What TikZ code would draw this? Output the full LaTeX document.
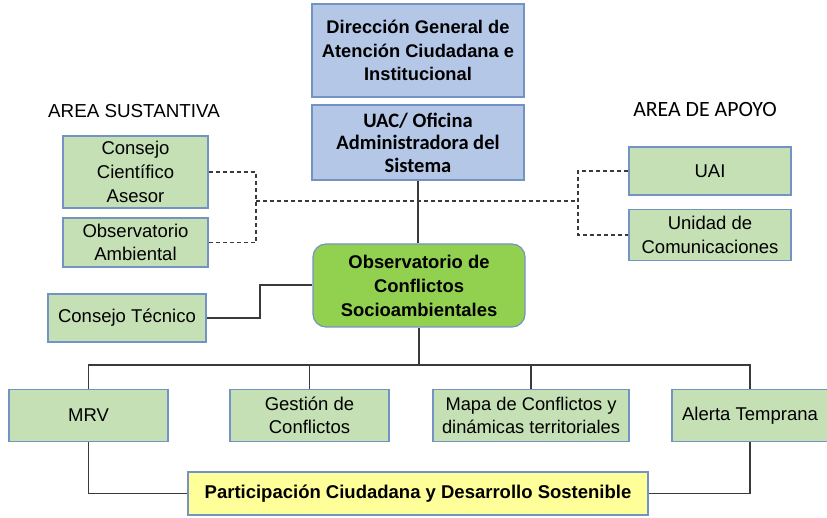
\documentclass[tikz,border=0pt]{standalone}
\usepackage{fontspec}
\setmainfont{Liberation Sans}
\newfontfamily\calib{Carlito}
\definecolor{bluefill}{HTML}{B4C7E7}
\definecolor{blueedge}{HTML}{7393C4}
\definecolor{greenfill}{HTML}{C5E0B4}
\definecolor{obsgreen}{HTML}{92D050}
\definecolor{yellowfill}{HTML}{FFFF99}
\definecolor{linegray}{HTML}{3A3A3A}
\tikzset{
  box/.style={draw=blueedge, line width=1.2pt, inner sep=0pt, align=center, font=\fontsize{18.5}{23.5}\selectfont},
  bluebox/.style={box, fill=bluefill},
  greenbox/.style={box, fill=greenfill},
  conn/.style={draw=linegray, line width=1.3pt},
  dconn/.style={draw=linegray, line width=1.1pt, dash pattern=on 4pt off 3pt},
}
\begin{document}
\begin{tikzpicture}[x=1pt,y=-1pt]
\useasboundingbox (0,0) rectangle (827,518);
% top boxes
\node[bluebox, minimum width=212pt, minimum height=93pt, font=\bfseries\fontsize{18.3}{23.5}\selectfont] (dg) at (418,50.5) {Dirección General de\\Atención Ciudadana e\\Institucional};
\node[bluebox, minimum width=212pt, minimum height=75pt, font=\calib\bfseries\fontsize{20.5}{22.5}\selectfont] (uac) at (418,142.5) {UAC/ Oficina\\Administradora del\\Sistema};
\node[box, fill=obsgreen, rounded corners=13pt, minimum width=212pt, minimum height=83pt, font=\bfseries\fontsize{18.4}{24}\selectfont] (obs) at (419,285.5) {Observatorio de\\Conflictos\\Socioambientales};
% area labels
\node[font=\fontsize{18.8}{22}\selectfont] (as) at (134,111) {AREA SUSTANTIVA};
\node[font=\calib\fontsize{21.8}{24}\selectfont] (aa) at (705,110) {AREA DE APOYO};
% left side
\node[greenbox, minimum width=145pt, minimum height=72pt, font=\fontsize{18.5}{24}\selectfont] (cca) at (135.5,172) {Consejo\\Científico\\Asesor};
\node[greenbox, minimum width=145pt, minimum height=49pt] (oa) at (135.5,242.5) {Observatorio\\Ambiental};
\node[greenbox, minimum width=158pt, minimum height=48pt] (ct) at (127,318) {Consejo Técnico};
% right side
\node[greenbox, minimum width=162pt, minimum height=48pt] (uai) at (710,171) {UAI};
\node[greenbox, minimum width=162pt, minimum height=51pt] (uc) at (710,235) {Unidad de\\Comunicaciones};
% bottom row
\node[greenbox, minimum width=159pt, minimum height=52pt] (mrv) at (88.5,415.5) {MRV};
\node[greenbox, minimum width=159pt, minimum height=52pt] (gest) at (309.5,415.5) {Gestión de\\Conflictos};
\node[greenbox, minimum width=196pt, minimum height=52pt, font=\fontsize{18.3}{23.5}\selectfont] (mapa) at (531,415.5) {Mapa de Conflictos y\\dinámicas territoriales};
\node[greenbox, minimum width=156pt, minimum height=52pt] (alerta) at (750,415.5) {Alerta Temprana};
\node[box, fill=yellowfill, minimum width=460pt, minimum height=43pt, font=\bfseries\fontsize{18.5}{22}\selectfont] (part) at (418,493.5) {Participación Ciudadana y Desarrollo Sostenible};
% coordinates
\coordinate (jl) at (256,201);
\coordinate (jr) at (578,201);
\coordinate (bus) at (419,365);
\coordinate (ctbend) at (260,318);
% solid connectors
\draw[conn] (uac.south) -- (uac.south |- obs.north);
\draw[conn] (obs.south) -- (bus);
\draw[conn] (mrv.north) |- (bus) -| (alerta.north);
\draw[conn] (gest.north) |- (bus);
\draw[conn] (mapa.north) |- (bus);
\draw[conn] (ct.east) -- (ctbend) |- (obs.west |- 0,285);
\draw[conn] (mrv.south) |- (part.west);
\draw[conn] (alerta.south) |- (part.east);
% dashed connectors
\draw[dconn] (cca.east) -| (jl) |- (oa.east);
\draw[dconn] (jl) -- (jr);
\draw[dconn] (uai.west) -| (jr) |- (uc.west);
\end{tikzpicture}
\end{document}
